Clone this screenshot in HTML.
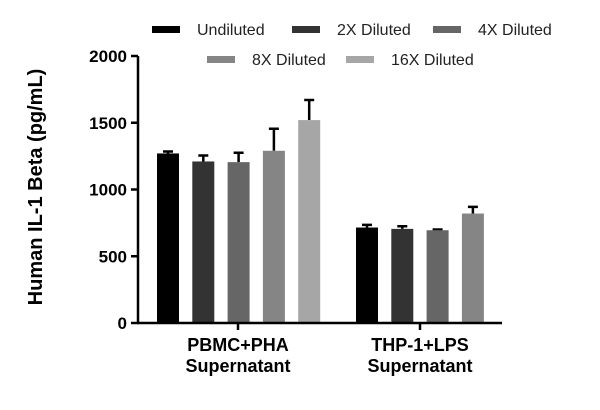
<!DOCTYPE html>
<html><head><meta charset="utf-8"><style>
body{margin:0;background:#fff;}
svg{display:block;font-family:"Liberation Sans",sans-serif;}
</style></head><body>
<svg id="chart" width="600" height="410"></svg>
<script>
const categories = ["PBMC+PHA|Supernatant", "THP-1+LPS|Supernatant"];
const seriesNames = ["Undiluted", "2X Diluted", "4X Diluted", "8X Diluted", "16X Diluted"];
const seriesColors = ["#000000", "#333333", "#666666", "#858585", "#a6a6a6"];
const values = [[1270, 715], [1210, 705], [1205, 695], [1290, 820], [1520, null]];
const errors = [[15, 20], [45, 20], [70, 5], [165, 50], [150, null]];
const yTicks = [0, 500, 1000, 1500, 2000];

const NS = "http://www.w3.org/2000/svg";
const svg = document.getElementById("chart");
function mk(tag, attrs, parent) {
  const e = document.createElementNS(NS, tag);
  for (const k in attrs) e.setAttribute(k, attrs[k]);
  (parent || svg).appendChild(e);
  return e;
}
const y0 = 323, yTop = 56, axisX = 138;
function yScale(v) { return y0 - (v / 2000) * (y0 - yTop); }
const groupStart = [157, 356], barStep = 35.3, barW = 22;
function xBar(g, s) { return groupStart[g] + s * barStep; }

for (let s = 0; s < seriesNames.length; s++) {
  for (let g = 0; g < categories.length; g++) {
    const v = values[s][g];
    if (v == null) continue;
    const x = xBar(g, s);
    const ey = yScale(v + errors[s][g]);
    const err = mk("path", { d: `M${x + barW / 2},${yScale(v)}V${ey}M${x + barW / 2 - 5},${ey}H${x + barW / 2 + 5}`, stroke: "#000", "stroke-width": 2.5, fill: "none" });
    
    
    const r = mk("rect", { x: x, y: yScale(v), width: barW, height: y0 - yScale(v), fill: seriesColors[s] });
    
    
  }
}
const ya = mk("path", { d: `M${axisX},${yTop}V${y0}`, stroke: "#000", "stroke-width": 2.5 });


const xa = mk("path", { d: `M${axisX - 1},${y0}H502`, stroke: "#000", "stroke-width": 2.5 });


for (const t of yTicks) {
  const y = yScale(t);
  const tk = mk("path", { d: `M${axisX - 7},${y}H${axisX}`, stroke: "#000", "stroke-width": 2.5 });
  
  
  const lb = mk("text", { x: axisX - 11, y: y + 6, "text-anchor": "end", "font-size": 17, "font-weight": "bold" });
  lb.textContent = t;
  
  
}
const xCenters = [238, 420];
categories.forEach((c, i) => {
  const tk = mk("path", { d: `M${xCenters[i]},${y0}V${y0 + 7}`, stroke: "#000", "stroke-width": 2.5 });
  
  
  const parts = c.split("|");
  parts.forEach((p, j) => {
    const t = mk("text", { x: xCenters[i], y: 351 + j * 21, "text-anchor": "middle", "font-size": 18, "font-weight": "bold" });
    t.textContent = p;
    
    
  });
});
const yt = mk("text", { x: 0, y: 0, transform: "translate(42,187) rotate(-90)", "text-anchor": "middle", "font-size": 20, "font-weight": "bold" });
yt.textContent = "Human IL-1 Beta (pg/mL)";


const legPos = [[152, 29], [292, 29], [433, 29], [207, 59], [346, 59]];
seriesNames.forEach((n, i) => {
  const [lx, ly] = legPos[i];
  const sw = mk("rect", { x: lx, y: ly - 3, width: 28, height: 7, fill: seriesColors[i] });
  
  
  const t = mk("text", { x: lx + 45, y: ly + 6, "font-size": 16, fill: "#222" });
  t.textContent = n;
  
  
});
</script>
</body></html>
